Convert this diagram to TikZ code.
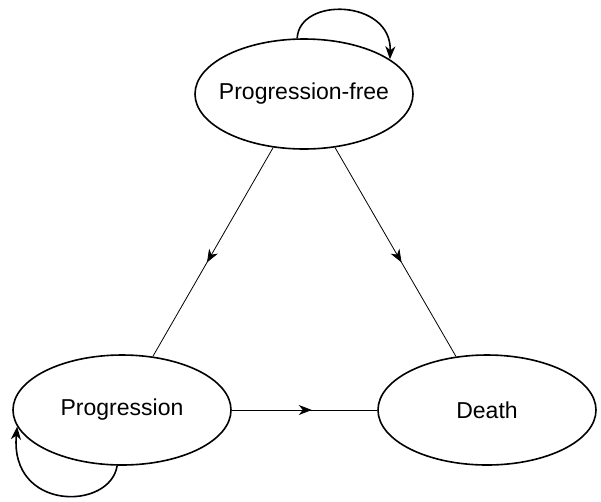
\documentclass[tikz,border=0pt]{standalone}
\usepackage{fontspec}
\setmainfont{Liberation Sans}
\usetikzlibrary{arrows.meta,shapes.geometric,decorations.markings}

\begin{document}
\begin{tikzpicture}[x=1pt, y=1pt, every node/.style={font=\fontsize{23}{27}\selectfont}, state/.style={draw,ellipse,line width=1.6pt,minimum width=218pt,minimum height=110pt,inner ysep=0pt,inner xsep=-15pt}, trans/.style={line width=0.8pt,postaction={decorate},decoration={markings,mark=at position 0.55 with {\arrow{Stealth[length=13pt,width=10pt,inset=4pt]}}}}, selfloop/.style={line width=1.6pt,-{Stealth[length=13pt,width=10pt,inset=4pt]}}]
\useasboundingbox (0,0) rectangle (601,-501);
\node[state] (pf) at (304,-94) {Progression-free};
\node[state] (prog) at (122,-410) {Progression};
\node[state] (death) at (487,-410) {Death};
\draw[trans] (pf) -- (prog);
\draw[trans] (pf) -- (death);
\draw[trans] (prog) -- (death);
\draw[selfloop] (pf.97) .. controls +(2,42) and +(2,60) .. (pf.22);
\draw[selfloop] (prog.265) .. controls +(-7,-45) and +(-8,-85) .. (prog.189);
\end{tikzpicture}
\end{document}
